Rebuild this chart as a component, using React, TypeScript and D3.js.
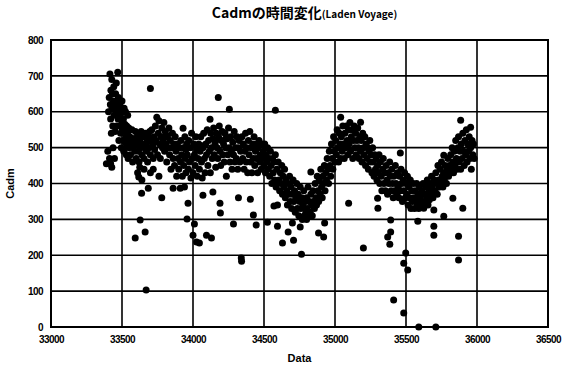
import { useEffect, useRef } from "react";
import * as d3 from "d3";

// [date, cadm] readings, grouped by period
const early: [number, number][] = [
  [33390, 455], [33400, 490], [33405, 600], [33410, 640], [33415, 705], [33418, 620], [33420, 580],
  [33422, 660], [33425, 540], [33428, 690], [33430, 610], [33433, 650], [33435, 560], [33437, 500],
  [33440, 630], [33442, 670], [33445, 590], [33447, 470], [33450, 620], [33452, 545], [33455, 650],
  [33458, 600], [33460, 680], [33462, 560], [33465, 630], [33468, 610], [33470, 710], [33472, 580],
  [33475, 640], [33478, 520], [33480, 600], [33483, 560], [33485, 620], [33488, 590], [33490, 540],
  [33493, 610], [33495, 500], [33498, 575], [33500, 630], [33503, 550], [33505, 600], [33508, 520],
  [33510, 580], [33512, 490], [33515, 610], [33518, 545], [33520, 565], [33523, 515], [33525, 600],
  [33528, 530], [33530, 480], [33533, 560], [33535, 505], [33538, 540], [33540, 590], [33543, 470],
  [33545, 520], [33548, 555], [33550, 500], [33412, 470], [33420, 455], [33428, 445],
];

const spring: [number, number][] = [
  [33555, 530], [33560, 480], [33565, 510], [33570, 550], [33575, 460], [33580, 500], [33585, 525],
  [33590, 490], [33595, 545], [33600, 470], [33605, 510], [33610, 535], [33615, 490], [33618, 418],
  [33620, 460], [33625, 520], [33628, 298], [33630, 500], [33635, 545], [33638, 373], [33640, 480],
  [33645, 510], [33650, 530], [33655, 470], [33660, 500], [33663, 265], [33665, 540], [33670, 103],
  [33672, 490], [33675, 515], [33680, 460], [33685, 387], [33688, 530], [33690, 500], [33695, 545],
  [33700, 665], [33700, 480], [33705, 520], [33710, 550], [33715, 505], [33720, 470], [33725, 530],
  [33730, 495], [33735, 560], [33740, 520], [33745, 585], [33750, 480], [33755, 540], [33760, 575],
  [33765, 510], [33770, 470], [33775, 530], [33780, 360], [33780, 555], [33785, 500], [33790, 520],
  [33795, 570], [33800, 490], [33805, 545], [33810, 510], [33815, 460], [33820, 530], [33825, 500],
  [33830, 555], [33835, 480], [33840, 520], [33845, 440], [33850, 500], [33855, 540], [33860, 387],
  [33860, 470], [33865, 510], [33870, 450], [33875, 530], [33880, 490], [33885, 420], [33890, 510],
  [33895, 470], [33900, 440], [33593, 248], [33610, 430], [33625, 445], [33640, 410], [33655, 440],
  [33700, 430], [33720, 440], [33760, 420], [33580, 525], [33650, 505], [33730, 515], [33810, 535],
];

const autumn: [number, number][] = [
  [33905, 500], [33910, 387], [33912, 460], [33915, 520], [33920, 480], [33925, 420], [33930, 554],
  [33932, 500], [33935, 450], [33940, 390], [33943, 530], [33945, 470], [33950, 430], [33955, 510],
  [33958, 301], [33960, 480], [33965, 345], [33968, 440], [33970, 520], [33975, 460], [33980, 500],
  [33985, 415], [33990, 540], [33995, 470], [34000, 256], [34000, 430], [34005, 510], [34010, 287],
  [34010, 480], [34015, 450], [34020, 530], [34025, 237], [34025, 495], [34030, 420], [34035, 470],
  [34040, 510], [34045, 234], [34045, 440], [34050, 490], [34055, 530], [34060, 460], [34065, 415],
  [34070, 367], [34070, 500], [34075, 540], [34080, 470], [34085, 430], [34090, 510], [34095, 256],
  [34095, 480], [34100, 550], [34105, 450], [34110, 520], [34115, 490], [34120, 579], [34122, 430],
  [34125, 540], [34130, 248], [34130, 500], [34135, 470], [34140, 376], [34140, 525], [34145, 555],
  [34150, 480], [34155, 510], [34160, 445], [34165, 540], [34170, 500], [34175, 470], [34178, 640],
  [34180, 530], [34185, 560], [34190, 345], [34190, 490], [34193, 318], [34195, 450], [34200, 520],
  [34205, 545], [34210, 480], [34215, 510], [34220, 460], [34225, 540], [34230, 500], [34235, 420],
  [34240, 525], [34245, 480], [34250, 555], [34256, 607], [34255, 500], [34260, 460], [34265, 530],
  [34270, 490], [34275, 440], [34280, 515], [34285, 287], [34285, 480], [34290, 545], [34295, 460],
  [34300, 500], [33950, 495], [34060, 505], [34160, 520], [34230, 525],
];

const winter: [number, number][] = [
  [34305, 470], [34310, 530], [34315, 440], [34320, 360], [34320, 500], [34325, 520], [34330, 460],
  [34335, 490], [34340, 192], [34342, 183], [34345, 530], [34350, 470], [34355, 510], [34360, 440],
  [34365, 490], [34370, 540], [34375, 460], [34380, 500], [34385, 430], [34390, 520], [34395, 480],
  [34400, 545], [34404, 356], [34405, 460], [34410, 500], [34415, 430], [34420, 510], [34425, 312],
  [34425, 470], [34430, 530], [34435, 450], [34440, 490], [34445, 284], [34445, 510], [34450, 470],
  [34455, 430], [34460, 500], [34465, 520], [34470, 460], [34475, 480], [34480, 440], [34485, 510],
  [34490, 470], [34495, 490], [34500, 450], [34505, 510], [34510, 430], [34515, 480], [34520, 460],
  [34524, 292], [34525, 500], [34530, 440], [34535, 470], [34540, 420], [34545, 490], [34550, 450],
  [34555, 400], [34560, 470], [34565, 430], [34570, 337], [34570, 460], [34575, 410], [34580, 604],
  [34580, 480], [34585, 390], [34590, 440], [34595, 281], [34595, 340], [34600, 460], [34605, 410],
  [34610, 380], [34615, 430], [34620, 400], [34625, 450], [34630, 234], [34630, 370], [34635, 420],
  [34640, 390], [34645, 440], [34650, 360], [34655, 410], [34660, 380], [34665, 340], [34670, 265],
  [34670, 400], [34675, 370], [34680, 420], [34685, 350], [34690, 390], [34695, 330], [34700, 290],
  [34700, 370],
];

const dip: [number, number][] = [
  [34705, 410], [34708, 242], [34710, 350], [34715, 380], [34720, 320], [34725, 360], [34730, 400],
  [34735, 330], [34740, 370], [34745, 310], [34750, 350], [34755, 279], [34755, 390], [34760, 330],
  [34764, 203], [34765, 360], [34770, 300], [34775, 340], [34780, 380], [34785, 310], [34790, 350],
  [34795, 320], [34800, 300], [34800, 360], [34805, 330], [34810, 390], [34815, 310], [34820, 350],
  [34825, 320], [34830, 432], [34830, 370], [34835, 340], [34840, 310], [34845, 380], [34850, 350],
  [34855, 330], [34860, 400], [34865, 360], [34870, 340], [34875, 420], [34880, 380], [34884, 262],
  [34885, 350], [34890, 410], [34895, 370], [34900, 440], [34905, 390], [34910, 360], [34915, 420],
  [34920, 251], [34920, 400], [34925, 450], [34927, 290], [34930, 380], [34935, 430], [34940, 410],
  [34945, 470], [34950, 440], [34955, 400], [34960, 490], [34965, 450], [34970, 420], [34975, 510],
  [34980, 470], [34985, 440], [34990, 530], [34995, 490], [35000, 460],
];

const rise: [number, number][] = [
  [35005, 520], [35010, 480], [35015, 550], [35020, 500], [35025, 460], [35030, 540], [35035, 510],
  [35040, 585], [35040, 470], [35045, 530], [35050, 490], [35055, 560], [35060, 510], [35065, 470],
  [35070, 540], [35075, 500], [35080, 560], [35085, 520], [35090, 480], [35096, 345], [35095, 550],
  [35100, 510], [35105, 570], [35110, 490], [35115, 530], [35120, 550], [35125, 470], [35130, 520],
  [35135, 560], [35140, 500], [35145, 540], [35150, 480], [35155, 520], [35160, 555], [35165, 500],
  [35170, 470], [35175, 530], [35180, 571], [35180, 490], [35185, 520], [35190, 460], [35195, 540],
  [35200, 220], [35200, 500], [35205, 480], [35210, 530], [35215, 450], [35220, 510], [35225, 470],
  [35230, 500], [35235, 440], [35240, 490], [35245, 520], [35250, 460], [35255, 480], [35260, 430],
  [35265, 500], [35270, 460], [35275, 420], [35280, 480], [35285, 440], [35290, 470], [35295, 410],
  [35300, 359], [35300, 450], [35302, 331],
];

const fall2: [number, number][] = [
  [35305, 430], [35310, 480], [35315, 400], [35320, 460], [35325, 420], [35330, 380], [35335, 440],
  [35340, 470], [35345, 400], [35350, 430], [35355, 380], [35360, 450], [35365, 410], [35371, 251],
  [35370, 370], [35375, 430], [35380, 400], [35386, 231], [35385, 460], [35390, 420], [35392, 298],
  [35392, 265], [35395, 380], [35400, 440], [35405, 400], [35410, 360], [35413, 75], [35415, 420],
  [35420, 380], [35425, 450], [35430, 400], [35435, 370], [35440, 430], [35445, 390], [35450, 360],
  [35455, 420], [35460, 485], [35460, 380], [35465, 440], [35470, 400], [35475, 350], [35480, 410],
  [35484, 178], [35484, 39], [35485, 380], [35490, 430], [35495, 360], [35498, 206], [35500, 400],
  [35505, 370], [35510, 420], [35512, 159], [35515, 340], [35520, 390], [35525, 360], [35530, 410],
  [35535, 330], [35540, 380], [35545, 350], [35550, 400], [35555, 360], [35560, 330], [35565, 380],
  [35570, 350], [35575, 400], [35580, 340], [35583, 295], [35585, 370], [35590, 0], [35590, 330],
  [35595, 390], [35600, 360],
];

const late: [number, number][] = [
  [35605, 340], [35610, 380], [35615, 350], [35620, 400], [35625, 331], [35630, 370], [35635, 345],
  [35640, 390], [35645, 360], [35650, 410], [35655, 340], [35660, 380], [35665, 355], [35670, 400],
  [35675, 370], [35680, 420], [35685, 390], [35690, 360], [35696, 326], [35696, 256], [35696, 281],
  [35700, 410], [35705, 380], [35710, 0], [35710, 430], [35715, 400], [35720, 370], [35725, 450],
  [35730, 410], [35735, 390], [35740, 440], [35745, 400], [35750, 460], [35755, 420], [35760, 390],
  [35766, 479], [35766, 309], [35765, 430], [35770, 410], [35775, 450], [35780, 420], [35785, 400],
  [35790, 440], [35795, 470], [35800, 420], [35805, 450], [35810, 430], [35815, 480], [35820, 440],
  [35825, 500], [35830, 359], [35830, 460], [35835, 430], [35840, 490], [35845, 450], [35850, 520],
  [35855, 470], [35860, 440], [35865, 500], [35870, 253], [35870, 187], [35870, 530], [35875, 460],
  [35880, 490], [35885, 576], [35885, 440], [35890, 510], [35895, 470], [35900, 331], [35900, 540],
  [35905, 490], [35910, 450], [35915, 520], [35920, 480], [35925, 550], [35930, 460], [35935, 510],
  [35940, 490], [35945, 530], [35950, 470], [35955, 557], [35955, 500], [35960, 440], [35965, 520],
  [35970, 480], [35975, 510], [35980, 470],
];

const xTicks = [33000, 33500, 34000, 34500, 35000, 35500, 36000, 36500];
const yTicks = [0, 100, 200, 300, 400, 500, 600, 700, 800];

export default function App() {
  const svgRef = useRef<SVGSVGElement>(null);

  useEffect(() => {
    if (!svgRef.current) return;
    document.body.style.margin = "0";
    d3.select(svgRef.current).selectAll("*").remove();

    const margin = { top: 40, right: 20, bottom: 39, left: 51 };
    const width = 568 - margin.left - margin.right;
    const height = 366 - margin.top - margin.bottom;
    const labelFont = "'Liberation Sans', Arial, sans-serif";

    const svg = d3
      .select(svgRef.current)
      .attr("width", 568)
      .attr("height", 366)
      .append("g")
      .attr("transform", `translate(${margin.left},${margin.top})`);

    const x = d3.scaleLinear().domain([33000, 36500]).range([0, width]);
    const y = d3.scaleLinear().domain([0, 800]).range([height, 0]);

    // grid
    svg
      .append("g")
      .selectAll("line")
      .data(xTicks)
      .enter()
      .append("line")
      .attr("x1", (d) => x(d))
      .attr("x2", (d) => x(d))
      .attr("y1", 0)
      .attr("y2", height)
      .attr("stroke", "#000")
      .attr("stroke-width", 1.6);

    svg
      .append("g")
      .selectAll("line")
      .data(yTicks)
      .enter()
      .append("line")
      .attr("x1", 0)
      .attr("x2", width)
      .attr("y1", (d) => y(d))
      .attr("y2", (d) => y(d))
      .attr("stroke", "#000")
      .attr("stroke-width", 1.6);

    svg
      .append("rect")
      .attr("width", width)
      .attr("height", height)
      .attr("fill", "none")
      .attr("stroke", "#000")
      .attr("stroke-width", 2);

    // axes labels
    const xAxis = svg
      .append("g")
      .attr("transform", `translate(0,${height})`)
      .call(d3.axisBottom(x).tickValues(xTicks).tickSize(0).tickPadding(9).tickFormat(d3.format("d")));
    xAxis.select(".domain").remove();
    xAxis
      .selectAll("text")
      .attr("font-family", labelFont)
      .attr("font-weight", "bold")
      .attr("font-size", 10)
      .attr("letter-spacing", -0.6)
      .attr("fill", "#000");

    const yAxis = svg
      .append("g")
      .call(d3.axisLeft(y).tickValues(yTicks).tickSize(0).tickPadding(8).tickFormat(d3.format("d")));
    yAxis.select(".domain").remove();
    yAxis
      .selectAll("text")
      .attr("font-family", labelFont)
      .attr("font-weight", "bold")
      .attr("font-size", 10)
      .attr("letter-spacing", -0.6)
      .attr("fill", "#000");

    // points
    const all = [...early, ...spring, ...autumn, ...winter, ...dip, ...rise, ...fall2, ...late];
    svg
      .append("g")
      .selectAll("circle")
      .data(all)
      .enter()
      .append("circle")
      .attr("cx", (d) => x(d[0]))
      .attr("cy", (d) => y(d[1]))
      .attr("r", 3.5)
      .attr("fill", "#000");

    svg
      .append("text")
      .attr("x", width / 2)
      .attr("y", height + 35)
      .attr("text-anchor", "middle")
      .attr("font-family", labelFont)
      .attr("font-weight", "bold")
      .attr("font-size", 11)
      .text("Data");

    svg
      .append("text")
      .attr("transform", `translate(-37,${height / 2}) rotate(-90)`)
      .attr("text-anchor", "middle")
      .attr("font-family", labelFont)
      .attr("font-weight", "bold")
      .attr("font-size", 11)
      .text("Cadm");

    const title = svg
      .append("text")
      .attr("x", width / 2 + 5)
      .attr("y", -22)
      .attr("text-anchor", "middle")
      .attr("font-family", "'Noto Sans CJK JP', sans-serif")
      .attr("font-weight", "bold")
      .attr("font-size", 14);
    title.append("tspan").text("Cadmの時間変化");
    title.append("tspan").attr("font-size", 10).text("(Laden Voyage)");
  }, []);

  return <svg ref={svgRef}></svg>;
}
